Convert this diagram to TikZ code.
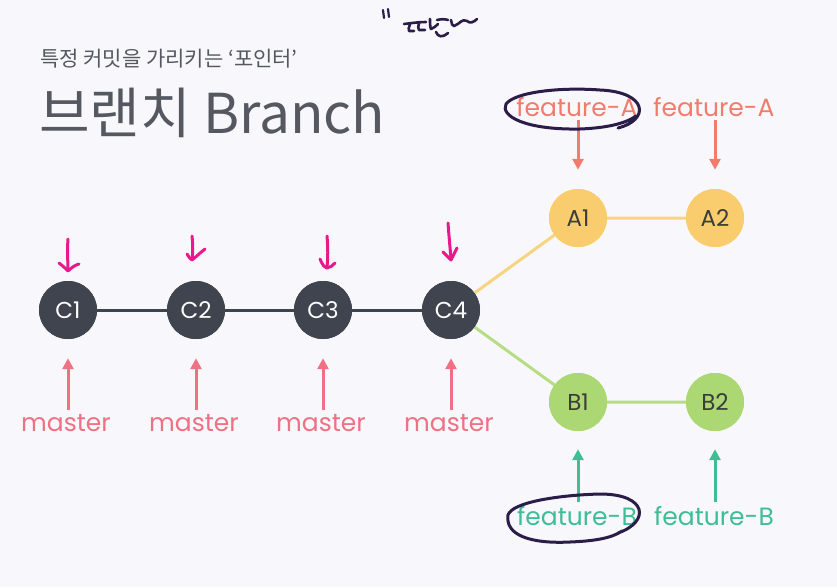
\documentclass[tikz,border=0pt]{standalone}
\usepackage{fontspec}
\usetikzlibrary{arrows.meta}
\newfontfamily\krfont{Noto Sans CJK KR}
\newfontfamily\popfont{Poppins}
\definecolor{bgcol}{HTML}{F8F8FC}
\definecolor{darknode}{HTML}{3F444E}
\definecolor{yellownode}{HTML}{F9CD6E}
\definecolor{yellowline}{HTML}{F7D481}
\definecolor{greennode}{HTML}{ABD872}
\definecolor{greenline}{HTML}{B7DD84}
\definecolor{mastercol}{HTML}{EE7184}
\definecolor{featAcol}{HTML}{F27C6C}
\definecolor{featBcol}{HTML}{3FBE94}
\definecolor{magentacol}{HTML}{E8198B}
\definecolor{inkcol}{HTML}{2B1D48}
\definecolor{titlecol}{HTML}{555860}
\definecolor{labelcol}{HTML}{3C3C3C}
\tikzset{
  commit/.style={circle, minimum size=58pt, inner sep=0pt, font=\popfont\fontsize{23}{23}\selectfont},
  dark/.style={commit, fill=darknode, text=white},
  yel/.style={commit, fill=yellownode, text=labelcol},
  grn/.style={commit, fill=greennode, text=labelcol},
  ref/.style={inner sep=0pt, font=\popfont\fontsize{25}{25}\selectfont},
  refarrow/.style={line width=3pt, -{Triangle[width=11pt,length=11pt]}},
  hand/.style={magentacol, line width=3pt, line cap=round, line join=round},
  ink/.style={inkcol, line width=3pt, line cap=round, line join=round},
}
\begin{document}
\begin{tikzpicture}[x=1pt, y=-1pt]
\fill[bgcol] (0,0) rectangle (837,587);
\useasboundingbox (0,0) rectangle (837,587);

% headings
\node[anchor=base west, inner sep=0pt, text=titlecol, font=\krfont\fontsize{21}{21}\selectfont] (sub) at (40,66) {특정 커밋을 가리키는 ‘포인터’};
\node[anchor=base west, inner sep=0pt, text=titlecol, font=\krfont\fontsize{55}{55}\selectfont] (title) at (39,133) {브랜치 Branch};

% commits
\node[dark] (C1) at (68,310) {C1};
\node[dark] (C2) at (196,310) {C2};
\node[dark] (C3) at (323,310) {C3};
\node[dark] (C4) at (451,310) {C4};
\node[yel] (A1) at (578,218) {A1};
\node[yel] (A2) at (715,218) {A2};
\node[grn] (B1) at (578,402) {B1};
\node[grn] (B2) at (715,402) {B2};

% history lines
\draw[darknode, line width=3pt] (C1) -- (C2) -- (C3) -- (C4);
\draw[yellowline, line width=3pt] (C4) -- (A1) -- (A2);
\draw[greenline, line width=3pt] (C4) -- (B1) -- (B2);
% commits again, over the line ends
\node[dark] at (C1) {C1};
\node[dark] at (C2) {C2};
\node[dark] at (C3) {C3};
\node[dark] at (C4) {C4};
\node[yel] at (A1) {A1};
\node[yel] at (A2) {A2};
\node[grn] at (B1) {B1};
\node[grn] at (B2) {B2};

% master refs
\foreach \i/\x in {1/66,2/194,3/321,4/449}{
  \node[ref, text=mastercol, anchor=base] (m\i) at (\x,431) {master};
  \draw[refarrow, mastercol] ([yshift=4pt]m\i.north -| C\i) -- ([yshift=-19pt]C\i.south);
}

% feature-A refs
\node[ref, text=featAcol, anchor=base] (fa1) at (577,116) {feature-A};
\node[ref, text=featAcol, anchor=base] (fa2) at (714,116) {feature-A};
\draw[refarrow, featAcol] ([yshift=-4pt]fa1.south -| A1) -- ([yshift=19pt]A1.north);
\draw[refarrow, featAcol] ([yshift=-4pt]fa2.south -| A2) -- ([yshift=19pt]A2.north);

% feature-B refs
\node[ref, text=featBcol, anchor=base] (fb1) at (577,525) {feature-B};
\node[ref, text=featBcol, anchor=base] (fb2) at (714,525) {feature-B};
\draw[refarrow, featBcol] ([yshift=4pt]fb1.north -| B1) -- ([yshift=-18pt]B1.south);
\draw[refarrow, featBcol] ([yshift=4pt]fb2.north -| B2) -- ([yshift=-18pt]B2.south);

% hand-drawn pointers above the commits
\draw[hand] (68,239) .. controls (67,252) and (68,262) .. (68,270);
\draw[hand] (59,263) .. controls (63,266) and (66,269) .. (68,271) .. controls (71,268) and (75,265) .. (79,264);
\draw[hand] (192,236) .. controls (193,245) and (193,252) .. (192,259);
\draw[hand] (187,254) .. controls (189,257) and (190,259) .. (192,260) .. controls (197,256) and (201,252) .. (205,249);
\draw[hand] (327,236) .. controls (328,248) and (328,258) .. (327,267);
\draw[hand] (320,259) .. controls (322,264) and (324,267) .. (327,268) .. controls (330,267) and (333,266) .. (335,263);
\draw[hand] (448,223) .. controls (449,236) and (450,248) .. (451,258);
\draw[hand] (443,252) .. controls (446,255) and (449,258) .. (451,260) .. controls (453,256) and (455,252) .. (457,248);

% circled refs
\draw[ink] (618,128) .. controls (650,120) and (648,92) .. (600,90)
  .. controls (560,87) and (515,92) .. (506,104)
  .. controls (500,116) and (525,130) .. (580,129)
  .. controls (605,128) and (625,124) .. (636,116);
\draw[ink] (618,533) .. controls (650,522) and (648,494) .. (600,494)
  .. controls (560,495) and (512,502) .. (508,515)
  .. controls (505,535) and (530,544) .. (570,542)
  .. controls (595,541) and (612,538) .. (622,531);

% scribble
\draw[ink, line width=2.2pt] (383,10) -- (384,18);
\draw[ink, line width=2.2pt] (388,9) -- (389,17);
\draw[ink, line width=2.6pt] (404,24) .. controls (412,23) and (419,22) .. (426,22);
\draw[ink, line width=2.6pt] (410,24) .. controls (409,27) and (408,30) .. (409,31) -- (414,31);
\draw[ink, line width=2.6pt] (419,23) .. controls (418,26) and (418,29) .. (419,30) -- (425,30);
\draw[ink, line width=2.6pt] (430,19) .. controls (430,23) and (430,27) .. (431,29) .. controls (434,28) and (436,26) .. (438,24);
\draw[ink, line width=2.6pt] (437,20) .. controls (441,19) and (445,19) .. (448,20);
\draw[ink, line width=2.6pt] (436,32) .. controls (438,37) and (442,38) .. (448,33);
\draw[ink, line width=2.6pt] (451,20) .. controls (452,24) and (452,26) .. (454,26) .. controls (460,24) and (462,18) .. (467,21) .. controls (470,24) and (474,22) .. (477,19);
\end{tikzpicture}
\end{document}
